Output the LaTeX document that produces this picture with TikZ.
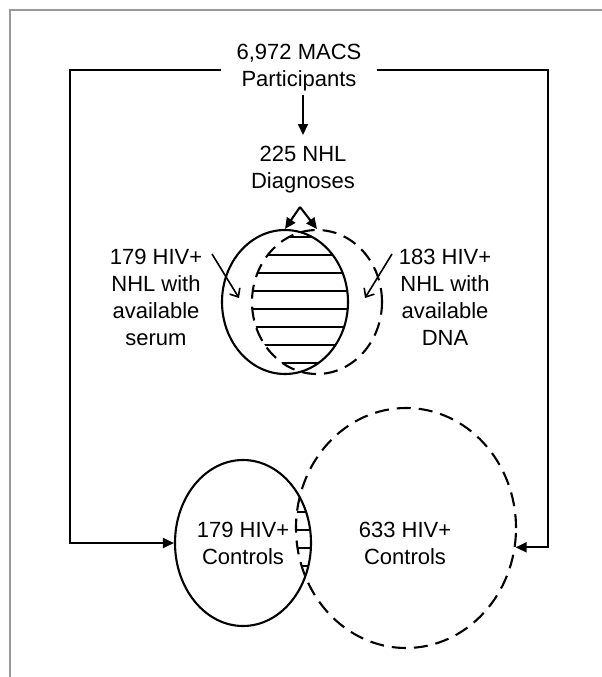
\documentclass[tikz,border=0pt]{standalone}
\usepackage{fontspec}
\setmainfont{Liberation Sans}
\usetikzlibrary{arrows.meta,shapes.geometric}

\begin{document}
\begin{tikzpicture}[x=1pt, y=-1pt,
    every node/.style={font=\fontsize{22}{27}\selectfont, align=center},
    conn/.style={line width=2.1pt, -{Triangle[length=11pt,width=10pt]}},
    barb/.style={line width=1.6pt, -{Straight Barb[length=7pt,width=12pt]}},
    solidset/.style={ellipse, draw, line width=2.1pt, inner sep=0pt},
    dashset/.style={solidset, dash pattern=on 14pt off 8pt},
    hatch/.style={line width=2pt}
  ]
    \useasboundingbox (0,0) rectangle (602,677);
    % frame (top and left only)
    \draw[gray!80, line width=2.5pt] (10,677) -- (10,10) -- (602,10);

    % population and cases
    \node[inner xsep=15pt] (macs) at (299,68) {6,972 MACS\\Participants};
    \node (nhl) at (303,170) {225 NHL\\Diagnoses};
    \draw[conn, shorten >=8pt] (macs.south -| nhl) -- (nhl);

    % case sets
    \node[solidset, minimum width=126pt, minimum height=144pt] (ser) at (285,302) {};
    \node[dashset, minimum width=130pt, minimum height=144pt] (dna) at (317,302) {};
    \begin{scope}
        \clip (285,302) ellipse [x radius=63pt, y radius=72pt];
        \clip (317,302) ellipse [x radius=65pt, y radius=72pt];
        \foreach \y in {237,255,...,363}
            \draw[hatch] (200,\y) -- (400,\y);
    \end{scope}
    \coordinate (apex) at (300,207);
    \draw[conn] (apex) -- (ser.north);
    \draw[conn] (apex) -- (dna.north);

    \node (serl) at (156,297) {179 HIV+\\NHL with\\available\\serum};
    \node (dnal) at (445,297) {183 HIV+\\NHL with\\available\\DNA};
    \coordinate (sers) at (212,254);
    \coordinate (sert) at (239,298);
    \coordinate (dnas) at (392,254);
    \coordinate (dnat) at (365,298);
    \draw[barb] (sers) -- (sert);
    \draw[barb] (dnas) -- (dnat);

    % control sets
    \node[solidset, minimum width=136pt, minimum height=166pt] (ctl) at (243,543) {179 HIV+\\Controls};
    \node[dashset, minimum width=220pt, minimum height=240pt] (ctr) at (406,528) {};
    \node (ctrl) at (405,543) {633 HIV+\\Controls};
    \begin{scope}
        \clip (243,543) ellipse [x radius=68pt, y radius=83pt];
        \clip (406,528) ellipse [x radius=110pt, y radius=120pt];
        \foreach \y in {512,530,548,566}
            \draw[hatch] (280,\y) -- (330,\y);
    \end{scope}

    % sampling brackets
    \coordinate (lc) at (70,70);
    \coordinate (rc) at (548,70);
    \draw[conn] (macs.west |- lc) -- (lc) |- (ctl.west);
    \draw[conn] (macs.east |- rc) -- (rc) |- (ctr.-10);
\end{tikzpicture}
\end{document}
